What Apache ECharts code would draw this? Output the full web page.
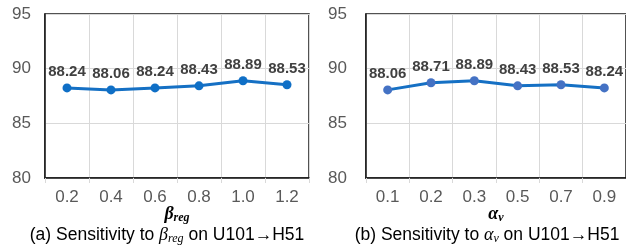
<!DOCTYPE html>
<html><head><meta charset="utf-8">
<script src="https://cdn.jsdelivr.net/npm/echarts@6/dist/echarts.min.js"></script>
<style>html,body{margin:0;padding:0;background:#fff}#c{width:626px;height:248px}</style>
</head><body><div id="c"></div>
<script>
const yTicks = [80, 85, 90, 95];
const betaCats = ['0.2', '0.4', '0.6', '0.8', '1.0', '1.2'];
const betaVals = [88.24, 88.06, 88.24, 88.43, 88.89, 88.53];
const alphaCats = ['0.1', '0.2', '0.3', '0.5', '0.7', '0.9'];
const alphaVals = [88.06, 88.71, 88.89, 88.43, 88.53, 88.24];

const SANS = '"Liberation Sans", Arial, sans-serif';
const SERIF = '"Liberation Serif", "DejaVu Serif", serif';
const chart = echarts.init(document.getElementById('c'), null, {renderer: 'canvas'});

function xAxis(gi, cats, sym, sub) {
  return {
    type: 'category', gridIndex: gi, data: cats, boundaryGap: true,
    axisLine: {show: true, lineStyle: {color: '#1a1a1a', width: 1.5}},
    axisTick: {show: true, length: 5, lineStyle: {color: '#d9d9d9'}},
    splitLine: {show: true, lineStyle: {color: '#d9d9d9', width: 1}},
    axisLabel: {color: '#595959', fontSize: 17, fontFamily: SANS, margin: 11},
    name: '{g|' + sym + '}{s|' + sub + '}',
    nameLocation: 'middle', nameGap: 26, nameMoveOverlap: false,
    nameTextStyle: {
      rich: {
        g: {fontFamily: SERIF, fontWeight: 'bold', fontStyle: 'italic', fontSize: 18, color: '#000', lineHeight: 20},
        s: {fontFamily: SERIF, fontWeight: 'bold', fontStyle: 'italic', fontSize: 12, color: '#000', lineHeight: 12, verticalAlign: 'bottom'}
      }
    }
  };
}
function yAxis(gi, margin) {
  return {
    type: 'value', gridIndex: gi, min: yTicks[0], max: yTicks[yTicks.length - 1], interval: 5,
    axisLine: {show: true, lineStyle: {color: '#1a1a1a', width: 1.5}},
    axisTick: {show: false},
    splitLine: {show: true, lineStyle: {color: '#d9d9d9', width: 1}},
    axisLabel: {color: '#595959', fontSize: 17, fontFamily: SANS, margin: margin}
  };
}
function series(gi, vals, markerColor) {
  return {
    type: 'line', xAxisIndex: gi, yAxisIndex: gi, data: vals,
    symbol: 'circle', symbolSize: 9,
    lineStyle: {color: '#1570c4', width: 3},
    itemStyle: {color: markerColor},
    label: {show: true, position: 'top', distance: 4, color: '#404040', fontWeight: 'bold', fontSize: 15, fontFamily: SANS,
      formatter: p => p.value.toFixed(2)},
    animation: false, z: 3
  };
}
function caption(x, letter, sym, sub) {
  return {
    left: x, top: 220, textAlign: 'center',
    text: '{t|(' + letter + ') Sensitivity to }{g|' + sym + '}{s|' + sub + '}{t| on U101\u2192H51}',
    textStyle: {
      fontWeight: 'normal',
      rich: {
        t: {fontFamily: SANS, fontWeight: 'normal', fontSize: 17.5, color: '#000', lineHeight: 20},
        g: {fontFamily: SERIF, fontWeight: 'normal', fontStyle: 'italic', fontSize: 18, color: '#000', lineHeight: 20},
        s: {fontFamily: SERIF, fontWeight: 'normal', fontStyle: 'italic', fontSize: 12, color: '#000', lineHeight: 12, verticalAlign: 'bottom'}
      }
    }
  };
}

chart.setOption({
  animation: false,
  backgroundColor: '#fff',
  title: [caption(162, 'a', '\u03b2', 'reg'), caption(482, 'b', '\u03b1', 'v')],
  grid: [
    {left: 45, width: 264, top: 14, height: 164, show: true, borderColor: '#1a1a1a', borderWidth: 1.5, containLabel: false},
    {left: 366, width: 264, top: 14, height: 164, show: true, borderColor: '#1a1a1a', borderWidth: 1.5, containLabel: false}
  ],
  xAxis: [xAxis(0, betaCats, '\u03b2', 'reg'), xAxis(1, alphaCats, '\u03b1', 'v')],
  yAxis: [yAxis(0, 14), yAxis(1, 19)],
  series: [series(0, betaVals, '#0f6fc6'), series(1, alphaVals, '#4472c4')]
});
</script></body></html>
